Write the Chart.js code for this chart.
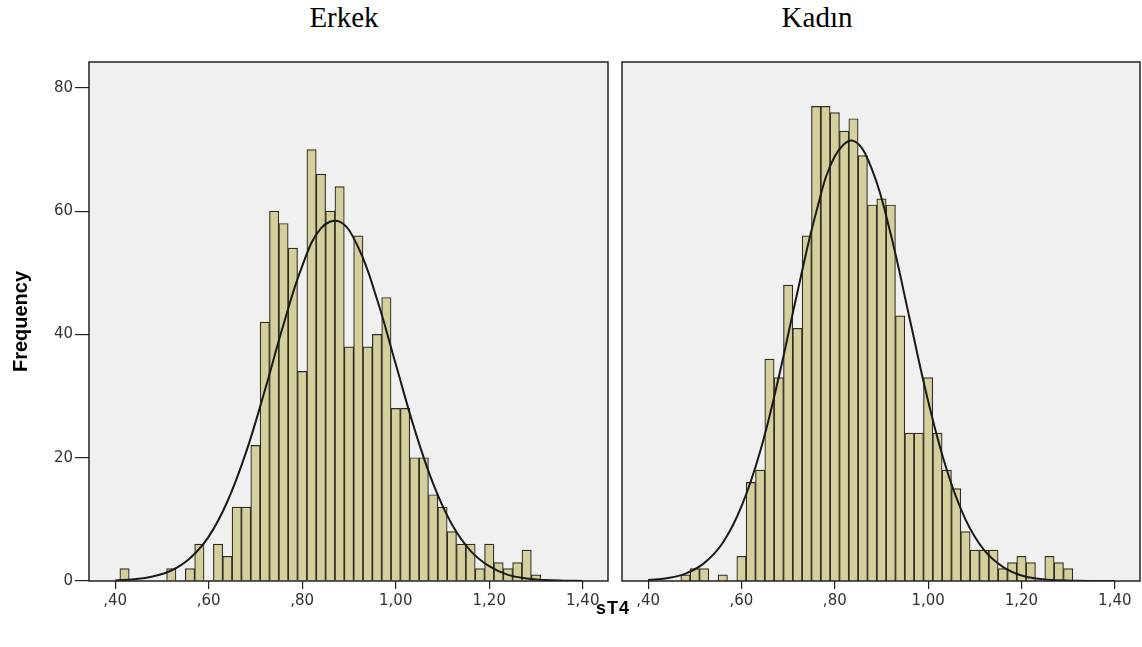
<!DOCTYPE html>
<html>
<head>
<meta charset="utf-8">
<script src="https://cdn.jsdelivr.net/npm/chart.js@4.4.1/dist/chart.umd.min.js"></script>
<style>
  body { margin: 0; background: #fff; width: 1142px; height: 647px; position: relative; overflow: hidden; }
  .panel { position: absolute; top: 0; height: 647px; }
  .title { position: absolute; font-family: "Liberation Serif", "Times New Roman", serif; font-size: 29px; line-height: 29px; color: #000; text-align: center; width: 200px; top: 3px; }
  #xtitle { position: absolute; font-family: "Liberation Sans", Arial, sans-serif; font-weight: bold; font-size: 18px; line-height: 18px; top: 599px; left: 563px; width: 100px; text-align: center; letter-spacing: 1px; }
</style>
</head>
<body>
<div class="title" style="left:244px">Erkek</div>
<div class="title" style="left:717px">Kadın</div>
<div class="panel" style="left:0;width:615px"><canvas id="left" width="615" height="647"></canvas></div>
<div class="panel" style="left:615px;width:527px"><canvas id="right" width="527" height="647"></canvas></div>
<div id="xtitle">sT4</div>
<script>
// bin centres (width 0.02) shared by both groups
const bins = [0.42, 0.44, 0.46, 0.48, 0.50, 0.52, 0.54, 0.56, 0.58, 0.60,
  0.62, 0.64, 0.66, 0.68, 0.70, 0.72, 0.74, 0.76, 0.78, 0.80,
  0.82, 0.84, 0.86, 0.88, 0.90, 0.92, 0.94, 0.96, 0.98, 1.00,
  1.02, 1.04, 1.06, 1.08, 1.10, 1.12, 1.14, 1.16, 1.18, 1.20,
  1.22, 1.24, 1.26, 1.28, 1.30];

const erkekCounts = [2, 0, 0, 0, 0, 2, 0, 2, 6, 0,
  6, 4, 12, 12, 22, 42, 60, 58, 54, 34,
  70, 66, 60, 64, 38, 56, 38, 40, 46, 28,
  28, 20, 20, 14, 12, 8, 6, 6, 2, 6,
  3, 2, 3, 5, 1];

const kadinCounts = [0, 0, 0, 1, 2, 2, 0, 1, 0, 4,
  16, 18, 36, 33, 48, 41, 56, 77, 77, 76,
  73, 75, 69, 61, 62, 61, 43, 24, 24, 33,
  24, 18, 15, 8, 5, 5, 5, 2, 3, 4,
  3, 0, 4, 3, 2];

// normal curve
const curveX = [0.40, 0.44, 0.48, 0.52, 0.56, 0.60, 0.64, 0.68, 0.72, 0.76,
  0.80, 0.84, 0.88, 0.92, 0.96, 1.00, 1.04, 1.08, 1.12, 1.16,
  1.20, 1.24, 1.28, 1.32, 1.36, 1.40];
const erkekCurve = [0.1, 0.28, 0.73, 1.7, 3.7, 7.2, 12.9, 20.9, 30.9, 41.6,
  51.1, 57.2, 58.3, 54.1, 45.7, 35.2, 24.7, 15.8, 9.2, 4.9,
  2.4, 1.0, 0.4, 0.15, 0.05, 0.01];
const kadinCurve = [0.16, 0.46, 1.2, 2.9, 6.2, 12.1, 21.0, 33.1, 46.9, 59.8,
  68.9, 71.4, 66.7, 56.2, 42.7, 29.2, 18.0, 10.0, 5.0, 2.3,
  0.9, 0.34, 0.11, 0.03, 0.01, 0.0];

const xTicks = [0.4, 0.6, 0.8, 1.0, 1.2, 1.4];
const xTickLabels = [",40", ",60", ",80", "1,00", "1,20", "1,40"];
const yTicks = [0, 20, 40, 60, 80];

const tickFont = { family: "'DejaVu Sans', sans-serif", size: 15 };

const framePlugin = {
  id: "frame",
  beforeDraw(chart) {
    const { ctx, chartArea: a } = chart;
    ctx.save();
    ctx.fillStyle = "#f0f0f0";
    ctx.fillRect(a.left, a.top, a.right - a.left, a.bottom - a.top);
    ctx.restore();
  },
  afterDraw(chart) {
    const { ctx, chartArea: a } = chart;
    ctx.save();
    ctx.strokeStyle = "#222";
    ctx.lineWidth = 1.5;
    ctx.strokeRect(a.left, a.top, a.right - a.left, a.bottom - a.top);
    ctx.restore();
  }
};

const make_chart = (id, counts, curve, showY, padding) => {
  return new Chart(document.getElementById(id), {
    type: "bar",
    data: {
      datasets: [
        {
          type: "line",
          data: curveX.map((x, i) => ({ x: x, y: curve[i] })),
          borderColor: "#1a1a1a",
          borderWidth: 2,
          pointRadius: 0,
          tension: 0.4,
          order: 0
        },
        {
          type: "bar",
          data: bins.map((x, i) => ({ x: x, y: counts[i] })),
          backgroundColor: "#d5cf9d",
          borderColor: "#2f2d22",
          borderWidth: 1.2,
          borderSkipped: "start",
          barPercentage: 1,
          categoryPercentage: 1,
          grouped: false,
          order: 1
        }
      ]
    },
    options: {
      responsive: false,
      devicePixelRatio: 1,
      animation: false,
      layout: { padding: padding },
      plugins: { legend: { display: false }, tooltip: { enabled: false } },
      scales: {
        x: {
          type: "linear",
          offset: false,
          min: 0.344,
          max: 1.454,
          afterBuildTicks: (s) => { s.ticks = xTicks.map(v => ({ value: v })); },
          afterFit: (s) => { s.height = 66; },
          ticks: {
            callback: (v, i) => xTickLabels[i],
            font: tickFont,
            color: "#333",
            padding: 3,
            maxRotation: 0,
            autoSkip: false
          },
          grid: { offset: false, drawOnChartArea: false, drawTicks: true, tickLength: 8, color: "#222", lineWidth: 1.2 },
          border: { display: false }
        },
        y: {
          display: showY,
          min: 0,
          max: 84.2,
          afterBuildTicks: (s) => { s.ticks = yTicks.map(v => ({ value: v })); },
          afterFit: (s) => { if (showY) s.width = 89; },
          ticks: { font: tickFont, color: "#333", padding: 2 },
          grid: { drawOnChartArea: false, drawTicks: true, tickLength: 14, color: "#222", lineWidth: 1.2 },
          border: { display: false },
          title: {
            display: true,
            text: "Frequency",
            color: "#000",
            font: { family: "'Liberation Sans', Arial, sans-serif", size: 20, weight: "bold" },
            padding: { top: 9, bottom: 0 }
          }
        }
      }
    },
    plugins: [framePlugin]
  });
};

make_chart("left", erkekCounts, erkekCurve, true, { top: 62, right: 7, left: 0, bottom: 0 });
make_chart("right", kadinCounts, kadinCurve, false, { top: 62, right: 2, left: 7, bottom: 0 });
</script>
</body>
</html>
